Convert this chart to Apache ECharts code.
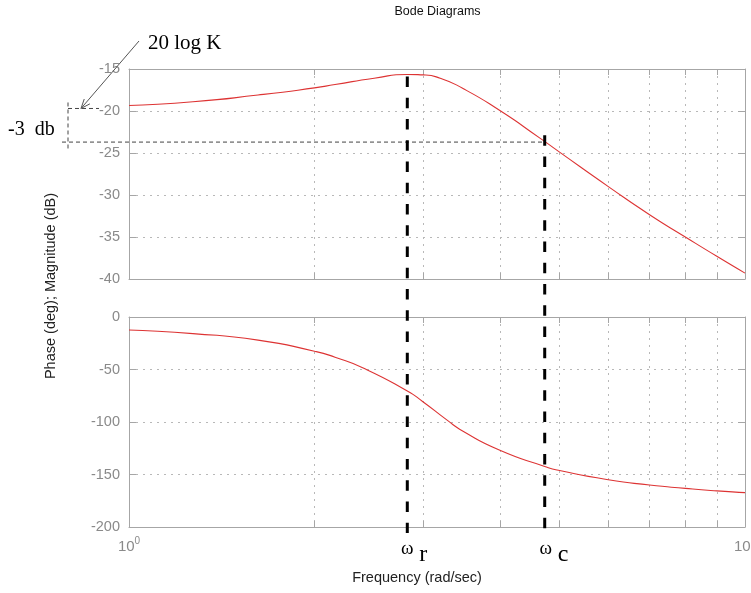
<!DOCTYPE html>
<html><head><meta charset="utf-8">
<script src="https://cdn.jsdelivr.net/npm/echarts@6/dist/echarts.min.js"></script>
<style>html,body{margin:0;padding:0;background:#fff}#c{width:751px;height:593px}</style>
</head><body><div id="c"></div>
<script>
// ---- data ----
const freqMag  = [1, 1.27, 1.62, 2, 2.16, 2.5, 2.83, 3.0, 3.2, 3.48, 4, 4.64, 5, 6, 7, 8, 9, 10];
const magDb    = [-19.35, -18.9, -18.1, -17.25, -16.85, -16.1, -15.65, -15.7, -16.1, -17.3, -19.95, -23.2, -24.9, -29.0, -32.35, -35.0, -37.3, -39.3];
const freqPh   = [1, 1.27, 1.62, 2, 2.16, 2.4, 2.83, 3.0, 3.28, 3.48, 4, 4.73, 5, 6, 7, 8, 9, 10];
const phaseDeg = [-12.4, -15.8, -22.0, -32.6, -38.3, -48.6, -70.5, -80.7, -98.0, -108.6, -127.0, -142.3, -146.2, -155.0, -160.0, -163.2, -165.6, -167.3];
const xTickValues  = [1, 2, 3, 4, 5, 6, 7, 8, 9, 10];
const xLabelValues = [1, 10];
const magRange   = [-40, -15];
const phaseRange = [-200, 0];
const omegaR = 2.83, omegaC = 4.73;
const peakDb = -15.6, gainDb = -19.7, cutDb = -23.7;

const chart = echarts.init(document.getElementById('c'), null, {renderer: 'canvas'});
const AX = '#a6a6a6', LBL = '#8a8a8a', GRID = '#b8b8b8';
const FONT = 'Liberation Sans, Arial, Helvetica, sans-serif';
const SERIF = 'Liberation Serif, Times New Roman, serif';

function xAxis(gi, pos, labels, split) {
  return {
    type: 'log', logBase: 10, min: 1, max: 10, gridIndex: gi, position: pos,
    axisLine: {show: true, onZero: false, lineStyle: {color: AX, width: 1}},
    axisTick: {show: true, inside: true, length: 6, customValues: xTickValues, lineStyle: {color: AX}},
    axisLabel: labels ? {
      show: true, customValues: xLabelValues, margin: 9, color: LBL,
      formatter: v => v === 1 ? '{a|10}{b|0}' : '{a|10}{b|1}',
      rich: {a: {fontSize: 15, fontFamily: FONT, color: LBL, lineHeight: 18, verticalAlign: 'bottom'},
             b: {fontSize: 10, fontFamily: FONT, color: LBL, lineHeight: 18, verticalAlign: 'top'}}
    } : {show: false},
    splitLine: {show: split, lineStyle: {color: GRID, type: [2, 5], width: 1}},
    minorTick: {show: false}, minorSplitLine: {show: false}
  };
}
function yAxis(gi, pos, range, step, labels) {
  return {
    type: 'value', gridIndex: gi, position: pos, min: range[0], max: range[1], interval: step,
    axisLine: {show: true, lineStyle: {color: AX, width: 1}},
    axisTick: {show: true, inside: true, length: 7, lineStyle: {color: AX}},
    axisLabel: labels ? {show: true, color: LBL, fontSize: 14.5, fontFamily: FONT, margin: 9} : {show: false},
    splitLine: {show: labels, lineStyle: {color: GRID, type: [2, 5], width: 1}}
  };
}

chart.setOption({
  animation: false,
  backgroundColor: '#fff',
  grid: [
    {left: 129, right: 6, top: 69, height: 210, outerBoundsMode: 'none', containLabel: false},
    {left: 129, right: 6, top: 317, height: 210, outerBoundsMode: 'none', containLabel: false}
  ],
  xAxis: [xAxis(0, 'bottom', false, true), xAxis(0, 'top', false, false),
          xAxis(1, 'bottom', true, true), xAxis(1, 'top', false, false)],
  yAxis: [yAxis(0, 'left', magRange, 5, true), yAxis(0, 'right', magRange, 5, false),
          yAxis(1, 'left', phaseRange, 50, true), yAxis(1, 'right', phaseRange, 50, false)],
  series: [
    {type: 'line', xAxisIndex: 0, yAxisIndex: 0, smooth: 0.6, showSymbol: false,
     lineStyle: {color: '#dd3333', width: 1.1}, data: freqMag.map((f, i) => [f, magDb[i]])},
    {type: 'line', xAxisIndex: 2, yAxisIndex: 2, smooth: 0.6, showSymbol: false,
     lineStyle: {color: '#dd3333', width: 1.1}, data: freqPh.map((f, i) => [f, phaseDeg[i]])}
  ]
});

// ---- annotations placed with the chart's own scales ----
const p0 = v => chart.convertToPixel({gridIndex: 0}, v);
const p1 = v => chart.convertToPixel({gridIndex: 1}, v);
const rTop = p0([omegaR, peakDb]);
const cTop = p0([omegaC, cutDb + 0.8]);
const bot = p1([1, phaseRange[0]])[1] + 6;
const cutY = p0([1, cutDb])[1];
const gainY = p0([1, gainDb])[1];
const leftX = p0([1, -20])[0];
const thick = {stroke: '#000', lineWidth: 3, lineDash: [10.5, 10.75]};
const thin = {stroke: '#444', lineWidth: 1, lineDash: [4, 3]};

// arrow
const ax1 = 139, ay1 = 41, ax2 = 81, ay2 = gainY;
const ang = Math.atan2(ay2 - ay1, ax2 - ax1), hl = 10, ha = 0.38;
const g = [
  {type: 'line', z: 100, shape: {x1: rTop[0], y1: rTop[1] + 2.5, x2: rTop[0], y2: bot}, style: thick},
  {type: 'line', z: 100, shape: {x1: cTop[0], y1: cTop[1], x2: cTop[0], y2: bot}, style: thick},
  {type: 'line', z: 99, shape: {x1: leftX - 67, y1: cutY, x2: cTop[0], y2: cutY}, style: thin},
  {type: 'line', z: 99, shape: {x1: leftX - 61, y1: gainY, x2: leftX - 30, y2: gainY}, style: thin},
  {type: 'line', z: 99, shape: {x1: leftX - 61, y1: gainY - 6, x2: leftX - 61, y2: cutY + 9}, style: thin},
  {type: 'line', z: 99, shape: {x1: ax1, y1: ay1, x2: ax2, y2: ay2}, style: {stroke: '#555', lineWidth: 1}},
  {type: 'polyline', z: 99, shape: {points: [
      [ax2 - hl * Math.cos(ang - ha), ay2 - hl * Math.sin(ang - ha)], [ax2, ay2],
      [ax2 - hl * Math.cos(ang + ha), ay2 - hl * Math.sin(ang + ha)]]},
   style: {stroke: '#555', lineWidth: 1, fill: null}},
  {type: 'text', z: 100, x: 437.5, y: 12, style: {text: 'Bode Diagrams', font: '12.5px ' + FONT, fill: '#111', align: 'center', verticalAlign: 'middle'}},
  {type: 'text', z: 100, x: 148, y: 43, style: {text: '20 log K', font: '21px ' + SERIF, fill: '#000', align: 'left', verticalAlign: 'middle'}},
  {type: 'text', z: 100, x: 8, y: 130, style: {text: '-3  db', font: '20px ' + SERIF, fill: '#000', align: 'left', verticalAlign: 'middle'}},
  {type: 'text', z: 100, x: rTop[0], y: 549, style: {text: 'ω', font: '19px ' + SERIF, fill: '#000', align: 'center', verticalAlign: 'middle'}},
  {type: 'text', z: 100, x: rTop[0] + 12, y: 555, style: {text: 'r', font: '24px ' + SERIF, fill: '#000', align: 'left', verticalAlign: 'middle'}},
  {type: 'text', z: 100, x: cTop[0] + 1, y: 549, style: {text: 'ω', font: '19px ' + SERIF, fill: '#000', align: 'center', verticalAlign: 'middle'}},
  {type: 'text', z: 100, x: cTop[0] + 13, y: 555, style: {text: 'c', font: '24px ' + SERIF, fill: '#000', align: 'left', verticalAlign: 'middle'}},
  {type: 'text', z: 100, x: 417, y: 578, style: {text: 'Frequency (rad/sec)', font: '14.5px ' + FONT, fill: '#222', align: 'center', verticalAlign: 'middle'}},
  {type: 'text', z: 100, x: 51, y: 286, rotation: Math.PI / 2, style: {text: 'Phase (deg); Magnitude (dB)', font: '14.5px ' + FONT, fill: '#222', align: 'center', verticalAlign: 'middle'}}
];
chart.setOption({graphic: g});
</script></body></html>
